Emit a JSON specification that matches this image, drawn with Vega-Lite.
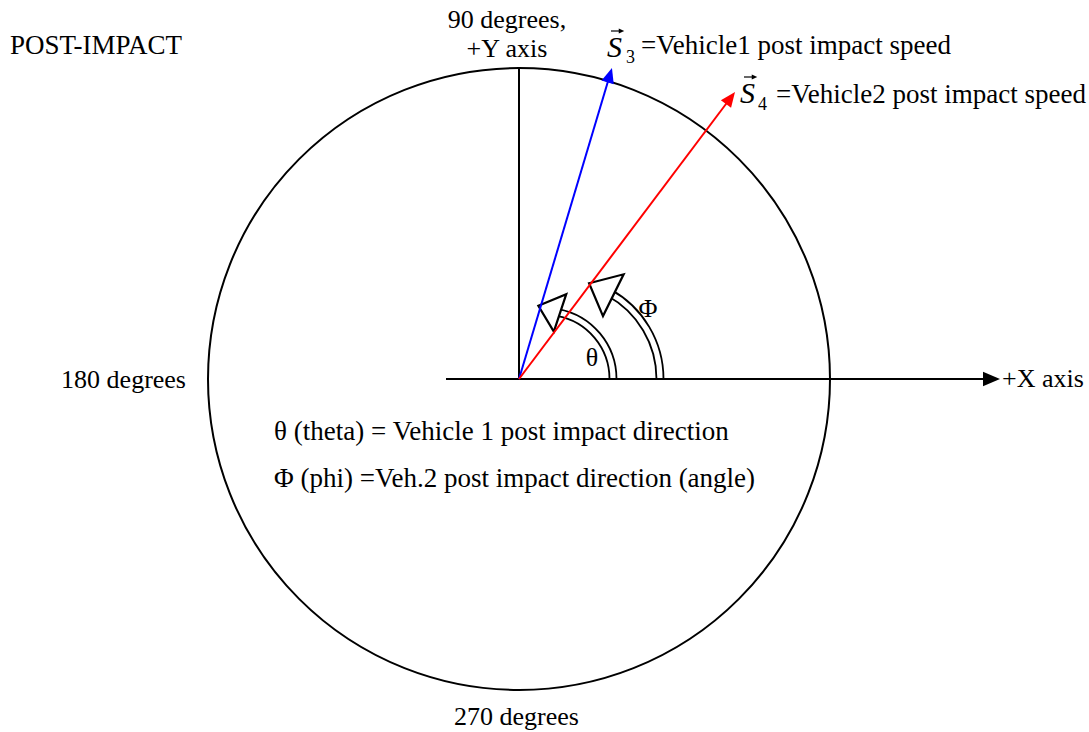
{
  "$schema": "https://vega.github.io/schema/vega-lite/v6.json",
  "width": 1089,
  "height": 732,
  "autosize": {"type": "fit", "contains": "padding"},
  "padding": 0,
  "background": "white",
  "config": {"view": {"stroke": null}},
  "encoding": {
    "x": {"field": "x", "type": "quantitative", "scale": {"domain": [-519, 570], "nice": false, "zero": false}, "axis": null},
    "y": {"field": "y", "type": "quantitative", "scale": {"domain": [-353, 379], "nice": false, "zero": false}, "axis": null}
  },
  "layer": [
    {
      "data": {"values": [{"x": 0, "y": 0, "r": 311, "t0": 0, "t1": 6.2832}]},
      "mark": {"type": "arc", "filled": false, "fill": null, "stroke": "black", "strokeWidth": 2},
      "encoding": {
        "theta": {"field": "t0", "type": "quantitative", "scale": null, "stack": null},
        "theta2": {"field": "t1"},
        "radius": {"field": "r", "type": "quantitative", "scale": null}
      }
    },
    {
      "data": {"values": [
        {"angle": "θ", "x": 26.4, "y": 0, "r": 67.6, "t0": 0.18, "t1": 1.5708},
        {"angle": "Φ", "x": 42.4, "y": 0, "r": 98.6, "t0": 0.5, "t1": 1.5708}
      ]},
      "mark": {"type": "arc", "fill": "white", "stroke": "black", "strokeWidth": 1.8, "radiusOffset": 3.5, "radius2Offset": -3.5},
      "encoding": {
        "theta": {"field": "t0", "type": "quantitative", "scale": null, "stack": null},
        "theta2": {"field": "t1"},
        "radius": {"field": "r", "type": "quantitative", "scale": null},
        "radius2": {"field": "r"}
      }
    },
    {
      "data": {"values": [
        {"angle": "θ", "x": 30.2, "y": 69.7, "direction": 161.6},
        {"angle": "Φ", "x": 82.2, "y": 89.8, "direction": 153.7}
      ]},
      "mark": {"type": "point", "shape": "M 0 -0.58 L 1 0.58 L -1 0.58 Z", "filled": true, "fill": "white", "stroke": "black", "strokeWidth": 2.2, "opacity": 1},
      "encoding": {
        "angle": {"field": "direction", "type": "quantitative", "scale": {"domain": [0, 90], "range": [90, 0]}},
        "size": {"field": "angle", "type": "nominal", "scale": {"domain": ["θ", "Φ"], "range": [1552, 2172]}, "legend": null}
      }
    },
    {
      "data": {"values": [
        {"line": "Y axis", "x": 0, "y": 0, "x2": 0, "y2": 312},
        {"line": "X axis", "x": -73, "y": 0, "x2": 473, "y2": 0}
      ]},
      "mark": {"type": "rule", "color": "black", "strokeWidth": 2},
      "encoding": {"x2": {"field": "x2"}, "y2": {"field": "y2"}}
    },
    {
      "data": {"values": [
        {"vehicle": "Vehicle 1", "x": 0, "y": 0, "x2": 90.8, "y2": 303.8},
        {"vehicle": "Vehicle 2", "x": 0, "y": 0, "x2": 211.5, "y2": 281}
      ]},
      "mark": {"type": "rule", "strokeWidth": 2},
      "encoding": {
        "x2": {"field": "x2"},
        "y2": {"field": "y2"},
        "color": {"field": "vehicle", "type": "nominal", "scale": {"domain": ["Vehicle 1", "Vehicle 2"], "range": ["#0000ff", "#ff0000"]}, "legend": null}
      }
    },
    {
      "data": {"values": [
        {"vehicle": "Vehicle 1", "x": 90.8, "y": 303.8, "direction": 73.2},
        {"vehicle": "Vehicle 2", "x": 211.5, "y": 281, "direction": 52.9}
      ]},
      "mark": {"type": "point", "shape": "M 0 -1 L 0.85 1 L -0.85 1 Z", "filled": true, "size": 225, "opacity": 1, "strokeWidth": 0},
      "encoding": {
        "angle": {"field": "direction", "type": "quantitative", "scale": {"domain": [0, 90], "range": [90, 0]}},
        "color": {"field": "vehicle", "type": "nominal", "scale": {"domain": ["Vehicle 1", "Vehicle 2"], "range": ["#0000ff", "#ff0000"]}, "legend": null}
      }
    },
    {
      "data": {"values": [{"x": 472.5, "y": 0, "direction": 0}]},
      "mark": {"type": "point", "shape": "M 0 -1 L 0.85 1 L -0.85 1 Z", "filled": true, "size": 289, "opacity": 1, "strokeWidth": 0, "color": "black"},
      "encoding": {
        "angle": {"field": "direction", "type": "quantitative", "scale": {"domain": [0, 90], "range": [90, 0]}}
      }
    },
    {
      "data": {"values": [
        {"symbol": "S3", "x": 92, "y": 348, "x2": 103},
        {"symbol": "S4", "x": 225, "y": 302, "x2": 236}
      ]},
      "mark": {"type": "rule", "color": "black", "strokeWidth": 1.2},
      "encoding": {"x2": {"field": "x2"}}
    },
    {
      "data": {"values": [
        {"symbol": "S3", "x": 102.5, "y": 348, "direction": 0},
        {"symbol": "S4", "x": 235.5, "y": 302, "direction": 0}
      ]},
      "mark": {"type": "point", "shape": "M 0 -1 L 0.9 1 L -0.9 1 Z", "filled": true, "size": 30, "opacity": 1, "strokeWidth": 0, "color": "black"},
      "encoding": {
        "angle": {"field": "direction", "type": "quantitative", "scale": {"domain": [0, 90], "range": [90, 0]}}
      }
    },
    {
      "data": {"values": [
        {"x": -509, "y": 325, "label": "POST-IMPACT"},
        {"x": 122, "y": 325, "label": "=Vehicle1 post impact speed"},
        {"x": 257, "y": 276, "label": "=Vehicle2 post impact speed"},
        {"x": -245, "y": -61, "label": "θ (theta) = Vehicle 1 post impact direction"},
        {"x": -245, "y": -108, "label": "Φ (phi) =Veh.2 post impact direction (angle)"}
      ]},
      "mark": {"type": "text", "align": "left", "baseline": "alphabetic", "font": "Liberation Serif", "fontSize": 27, "color": "black"},
      "encoding": {"text": {"field": "label"}}
    },
    {
      "data": {"values": [{"x": 483, "y": -8, "label": "+X axis"}]},
      "mark": {"type": "text", "align": "left", "baseline": "alphabetic", "font": "Liberation Serif", "fontSize": 26, "color": "black"},
      "encoding": {"text": {"field": "label"}}
    },
    {
      "data": {"values": [
        {"x": -12, "y": 351, "label": "90 degrees,"},
        {"x": -12, "y": 322, "label": "+Y axis"},
        {"x": -2.5, "y": -346, "label": "270 degrees"},
        {"x": 73, "y": 13, "label": "θ"},
        {"x": 129, "y": 62, "label": "Φ"}
      ]},
      "mark": {"type": "text", "align": "center", "baseline": "alphabetic", "font": "Liberation Serif", "fontSize": 26, "color": "black"},
      "encoding": {"text": {"field": "label"}}
    },
    {
      "data": {"values": [{"x": -333, "y": -9, "label": "180 degrees"}]},
      "mark": {"type": "text", "align": "right", "baseline": "alphabetic", "font": "Liberation Serif", "fontSize": 26, "color": "black"},
      "encoding": {"text": {"field": "label"}}
    },
    {
      "data": {"values": [
        {"x": 88, "y": 322, "label": "S"},
        {"x": 221, "y": 276, "label": "S"}
      ]},
      "mark": {"type": "text", "align": "left", "baseline": "alphabetic", "font": "Liberation Serif", "fontStyle": "italic", "fontSize": 30, "color": "black"},
      "encoding": {"text": {"field": "label"}}
    },
    {
      "data": {"values": [
        {"x": 107, "y": 316, "label": "3"},
        {"x": 239, "y": 269, "label": "4"}
      ]},
      "mark": {"type": "text", "align": "left", "baseline": "alphabetic", "font": "Liberation Serif", "fontSize": 18, "color": "black"},
      "encoding": {"text": {"field": "label"}}
    }
  ]
}
